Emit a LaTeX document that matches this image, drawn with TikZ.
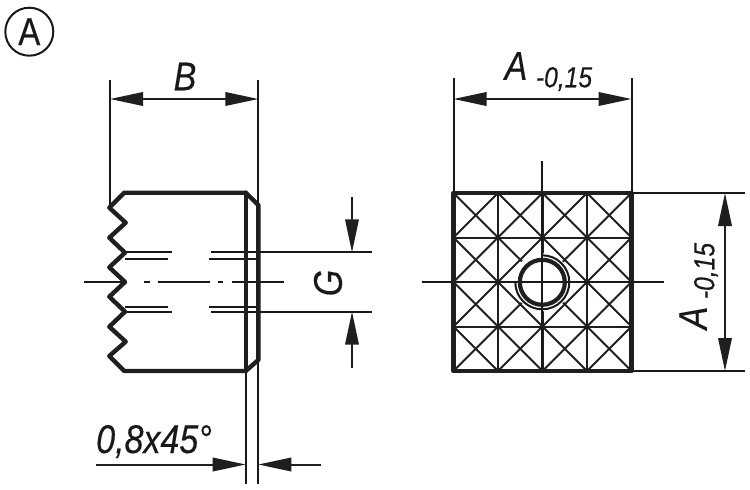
\documentclass[tikz,border=0pt]{standalone}
\usepackage{fontspec}
\newfontfamily\dimfont[FakeStretch=0.85,FakeBold=0.3]{Liberation Sans}
\newfontfamily\dimit[FakeStretch=0.85,FakeBold=0.3]{Liberation Sans Italic}
\usetikzlibrary{arrows.meta}
\tikzset{
  thin line/.style={line width=2pt,black!90},
  thick outline/.style={line width=4.4pt,black!88,line join=round,line cap=round},
  mesh/.style={line width=2pt,black!88},
  dimline/.style={line width=2pt,black!88,{Triangle[length=33pt,width=13.5pt]}-{Triangle[length=33pt,width=13.5pt]}},
  halfdim/.style={line width=2pt,black!88,-{Triangle[length=33pt,width=13.5pt]}},
  lab/.style={inner sep=0pt,text=black!90,font=\dimit\fontsize{40}{40}\selectfont},
  sublab/.style={inner sep=0pt,text=black!90,font=\dimit\fontsize{29}{29}\selectfont}
}
\begin{document}
\begin{tikzpicture}[x=1pt,y=-1pt]
\useasboundingbox (0,0) rectangle (750,490);
% marker
\node[circle,draw,line width=2pt,black!90,minimum size=48pt,inner sep=0pt,text=black!90,font=\dimfont\fontsize{39}{39}\selectfont] (mark) at (29.3,31.7) {A};
% left view: extension lines
\coordinate (bl) at (110,80); \coordinate (blb) at (110,207);
\coordinate (br) at (258.3,80); \coordinate (brb) at (258.3,484);
\coordinate (cl) at (245.7,371); \coordinate (clb) at (245.7,484);
\draw[thin line] (bl) -- (blb);
\draw[thin line] (br) -- (brb);
\draw[thin line] (cl) -- (clb);
% thread lines
\draw[thin line] (125,252.3) -- (171.5,252.3) (211,252.3) -- (372,252.3);
\draw[thin line] (125,258.5) -- (168,258.5) (208.5,258.5) -- (258,258.5);
\draw[thin line] (125,306.5) -- (168,306.5) (208.5,306.5) -- (258,306.5);
\draw[thin line] (125,311.7) -- (171.5,311.7) (211,311.7) -- (372,311.7);
% centre line
\draw[thin line] (83.5,282) -- (126.7,282) (144,282) -- (149.5,282) (158.3,282) -- (210,282) (218,282) -- (223,282) (231.7,282) -- (284,282);
% outline
\draw[thick outline] (124.3,192.7) -- (245.7,192.7) -- (258.3,205) -- (258.3,360) -- (245.7,371) -- (124.3,371)
 -- (109.3,356) -- (125.7,341.7) -- (109.3,326.7) -- (125,311.7) -- (109.3,296.7) -- (125,282) -- (109.3,267.3) -- (125,252.7) -- (109.3,237.7) -- (125.7,222.7) -- (109.3,207.7) -- cycle;
\draw[thick outline] (245.7,192.7) -- (245.7,371);
% dim B
\draw[dimline] (bl |- 0,99) -- (br |- 0,99);
\node[lab] (B) at (185,76.5) {B};
% dim chamfer
\coordinate (c1) at (96,464.5); \coordinate (c2) at (321,464.5);
\draw[halfdim] (c1) -- (245.7,464.5);
\draw[halfdim] (c2) -- (258.3,464.5);
\node[lab,anchor=base west] (ch) at (96,453) {0,8x45°};
% dim G
\coordinate (g1) at (352,197); \coordinate (g2) at (352,368);
\draw[halfdim] (g1) -- (352,252.3);
\draw[halfdim] (g2) -- (352,311.7);
\node[lab,rotate=90] (G) at (328,283) {G};
% right view
\foreach \i in {0,1,2,3} \foreach \j in {0,1,2,3} {
  \draw[mesh] (453.5+44.5*\i,193+44.5*\j) -- ++(44.5,44.5);
  \draw[mesh] (498+44.5*\i,193+44.5*\j) -- ++(-44.5,44.5);
}
\foreach \i in {1,2,3} {
  \draw[mesh] (453.5+44.5*\i,193) -- (453.5+44.5*\i,371);
  \draw[mesh] (453.5,193+44.5*\i) -- (631.5,193+44.5*\i);
}
\fill[white] (542.3,282.3) circle (29);
\draw[thin line] (422,282.3) -- (664,282.3);
\draw[thin line] (542.3,161) -- (542.3,371);
\draw[thin line] (542.3,282.3) ++(270:27) arc (270:540:27);
\draw[line width=4.2pt,black!88] (542.3,282.3) circle (22.5);
\draw[thick outline] (453.5,193) rectangle (631.5,371);
% dim A top
\coordinate (a1) at (453.5,78); \coordinate (a2) at (631.5,78);
\draw[thin line] (a1) -- (453.5,193);
\draw[thin line] (a2) -- (631.5,193);
\draw[dimline] (453.5,99) -- (631.5,99);
\node[lab] (A1) at (516,66) {A};
\node[sublab] (s1) at (564,79) {-0,15};
% dim A right
\coordinate (a3) at (745,193); \coordinate (a4) at (745,371);
\draw[thin line] (631.5,193) -- (a3);
\draw[thin line] (631.5,371) -- (a4);
\draw[dimline] (725,193) -- (725,371);
\node[lab,rotate=90] (A2) at (693,318) {A};
\node[sublab,rotate=90] (s2) at (706,271) {-0,15};
\end{tikzpicture}
\end{document}
